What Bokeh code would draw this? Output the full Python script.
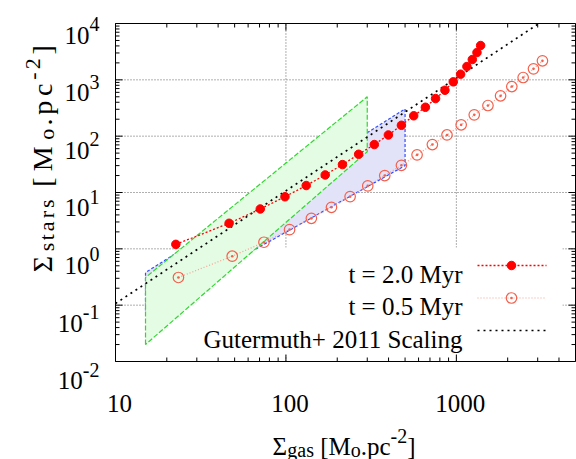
import numpy as np
from bokeh.plotting import figure
from bokeh.models import Label
from bokeh.embed import file_html
from bokeh.resources import INLINE

# ---------------- data ----------------
gas_t20 = [22.6, 46.4, 70.7, 98.7, 131.5, 170, 214.6, 267, 330, 399, 476,
           562, 658, 755, 857, 959, 1059, 1153, 1240, 1321, 1388]
stars_t20 = [1.2, 2.84, 5.1, 8.4, 13.3, 20.5, 31.3, 47.7, 71, 105, 156,
             230, 326, 465, 653, 920, 1260, 1722, 2295, 3054, 4065]

gas_t05 = [23.4, 48.4, 74.3, 105, 141, 185, 238, 302, 380, 476, 588,
           723, 881, 1067, 1273, 1532, 1817, 2115, 2465, 2834, 3199]
stars_t05 = [0.31, 0.74, 1.31, 2.19, 3.48, 5.46, 8.45, 13.1, 20, 30.4, 46.6,
             71, 105, 159, 239, 350, 520, 760, 1099, 1567, 2174]

gut_gas = [10, 3050]
gut_stars = [0.107, 1.0e4]

green_gas = [15, 15, 300, 300]
green_stars = [0.020, 0.31, 500, 53]
blue_gas = [15, 15, 500, 500]
blue_stars = [0.08, 0.38, 305, 30]

x_ticks = [10, 100, 1000]
x_tick_labels = ["10", "100", "1000"]
y_ticks = [1e4, 1e3, 1e2, 1e1, 1e0, 1e-1, 1e-2]
y_exponents = ["4", "3", "2", "1", "0", "-1", "-2"]
legend_labels = ["t = 2.0 Myr", "t = 0.5 Myr", "Gutermuth+ 2011 Scaling"]

# ---------------- layout (pixels of the 576x459 page) ----------------
FONT = "Liberation Serif"
W, H = 576, 459
L, R, T, B = 115, 575, 23, 361          # plot box
XMIN, XMAX = 10.0, 5000.0
YMIN, YMAX = 1e-2, 1e4
LX = np.log10(XMAX / XMIN)
LY = np.log10(YMAX / YMIN)


def X(px):
    return 10 ** (np.log10(XMIN) + (px - L) / (R - L) * LX)


def Y(py):
    return 10 ** (np.log10(YMAX) - (py - T) / (B - T) * LY)


def xpx(v):
    return L + (np.log10(v) - np.log10(XMIN)) / LX * (R - L)


# the frame covers the whole page so that every text can be drawn inside it
p = figure(x_axis_type="log", y_axis_type="log",
           x_range=(X(0), X(W)), y_range=(Y(H), Y(0)),
           frame_width=W, frame_height=H,
           min_border_left=0, min_border_right=0,
           min_border_top=0, min_border_bottom=0,
           x_axis_location=None, y_axis_location=None,
           output_backend="svg", toolbar_location=None,
           background_fill_color="white", border_fill_color="white")
p.grid.visible = False
p.outline_line_color = None

x_minor = [m * 10.0 ** e for e in range(1, 4) for m in range(2, 10) if m * 10 ** e < XMAX]
y_minor = [m * 10.0 ** e for e in range(-2, 4) for m in range(2, 10)]

# ---------------- grid ----------------
gx = [v for v in x_ticks if XMIN < v < XMAX]
gy = [v for v in y_ticks if YMIN < v < YMAX]
GRID = dict(line_color="#444444", line_width=1, line_dash="1 2", line_alpha=0.85)
p.segment(x0=gx, x1=gx, y0=[YMIN] * len(gx), y1=[YMAX] * len(gx), **GRID)
p.segment(x0=[XMIN] * len(gy), x1=[XMAX] * len(gy), y0=gy, y1=gy, **GRID)

# legend background hides the grid
p.quad(left=[X(190)], right=[X(562)], top=[Y(247)], bottom=[Y(355)],
       fill_color="white", line_color=None)

# ---------------- regions ----------------
p.patch(blue_gas, blue_stars, fill_color="#e2e2f8", line_color="#2f4cff",
        line_dash="3 2", line_width=1.2)
p.patch(green_gas, green_stars, fill_color="#e4fbe4", line_color="#30d830",
        line_dash="5 2", line_width=1.2)

# ---------------- series ----------------
GUT = dict(line_color="black", line_width=1.7, line_dash="2 4")
S05_LINE = dict(line_color="#f7a090", line_width=1.2, line_dash="1 2")
S05_MARK = dict(marker="circle_dot", size=10.5, line_color="#f4604c",
                line_width=1.2, fill_color=None)
S20_LINE = dict(line_color="red", line_width=1.3, line_dash="2 2")
S20_MARK = dict(marker="circle", size=8.5, line_color="red", fill_color="red")

p.line(gut_gas, gut_stars, **GUT)
p.line(gas_t05, stars_t05, **S05_LINE)
p.scatter(gas_t05, stars_t05, **S05_MARK)
p.line(gas_t20, stars_t20, **S20_LINE)
p.scatter(gas_t20, stars_t20, **S20_MARK)

# ---------------- plot box and ticks (inward, on all four sides) ----------------
p.quad(left=[XMIN], right=[XMAX], bottom=[YMIN], top=[YMAX],
       fill_color=None, line_color="black", line_width=1)

TICK = dict(line_color="black", line_width=1)
for vals, ln in ((x_ticks, 7), (x_minor, 4)):
    n = len(vals)
    p.segment(x0=vals, x1=vals, y0=[YMIN] * n, y1=[Y(B - ln)] * n, **TICK)
    p.segment(x0=vals, x1=vals, y0=[YMAX] * n, y1=[Y(T + ln)] * n, **TICK)
for vals, ln in ((y_ticks, 7), (y_minor, 4)):
    n = len(vals)
    p.segment(x0=[XMIN] * n, x1=[X(L + ln)] * n, y0=vals, y1=vals, **TICK)
    p.segment(x0=[XMAX] * n, x1=[X(R - ln)] * n, y0=vals, y1=vals, **TICK)

# ---------------- texts ----------------
ADV = {'Σ': 0.592, 's': 0.389, 't': 0.278, 'a': 0.444, 'r': 0.333, 'g': 0.5,
       ' ': 0.25, '[': 0.333, ']': 0.333, 'M': 0.889, 'o': 0.5, '.': 0.25,
       'p': 0.5, 'c': 0.444, '-': 0.333, '0': 0.5, '1': 0.5, '2': 0.5,
       '3': 0.5, '4': 0.5}


def tw(text, size):
    return sum(ADV.get(ch, 0.5) for ch in text) * size


def lab(px, py, text, size, align="left", angle=0.0):
    p.add_layout(Label(x=X(px), y=Y(py), text=text, text_font=FONT,
                       text_font_size=f"{size}px", text_align=align,
                       text_baseline="alphabetic", angle=angle,
                       text_color="black"))


MAIN, SUB = 25, 20

# x tick labels
for v, t in zip(x_ticks, x_tick_labels):
    lab(xpx(v) + 4, 403, t, MAIN, align="center")

# y tick labels 10^e
for k, es in enumerate(y_exponents):
    base = 26 + 57.6 * k + 8.5
    lab(99, base - 11, es, SUB, align="right")
    lab(99 - tw(es, SUB), base, "10", MAIN, align="right")

# x axis label: Σgas [Mo.pc-2]   (spaces are handled by advancing the pen)
pieces = [("Σ", MAIN, 0), ("gas", SUB, 3), (" ", MAIN, 0), ("[M", MAIN, 0),
          ("o", SUB, 3), (".pc", MAIN, 0), ("-2", SUB, -11), ("]", MAIN, 0)]
cx = 272.0
for txt, sz, sh in pieces:
    if txt.strip():
        lab(cx, 446 + sh, txt, sz)
    cx += tw(txt, sz)

# y axis label (rotated): Σstars [Mo.pc-2]
ypieces = [("Σ", 28, 0), ("stars", 22, 4), (" ", 28, 0), ("[M", 28, 0),
           ("o", 22, 4), (".pc", 28, 0), ("-2", 22, -10), ("]", 28, 0)]
chars = [(ch, sz, sh) for txt, sz, sh in ypieces for ch in txt]
total = sum(ADV.get(ch, 0.5) * sz for ch, sz, sh in chars)
stretch = 232.0 / total
cy = 275.0
for ch, sz, sh in chars:
    w = ADV.get(ch, 0.5) * sz * stretch
    if ch != " ":
        lab(42 + sh, cy - w / 2, ch, sz, align="center", angle=np.pi / 2)
    cy -= w

# ---------------- legend ----------------
rows = [265, 297.5, 330]
for t, ry in zip(legend_labels, rows):
    lab(462, ry + 8.5, t, MAIN, align="right")

lx = [X(477), X(546)]
p.line(lx, [Y(rows[0])] * 2, **S20_LINE)
p.scatter([X(511)], [Y(rows[0])], **S20_MARK)
p.line(lx, [Y(rows[1])] * 2, **S05_LINE)
p.scatter([X(511)], [Y(rows[1])], **S05_MARK)
p.line(lx, [Y(rows[2])] * 2, **GUT)

open("out.html", "w").write(file_html(p, INLINE))
